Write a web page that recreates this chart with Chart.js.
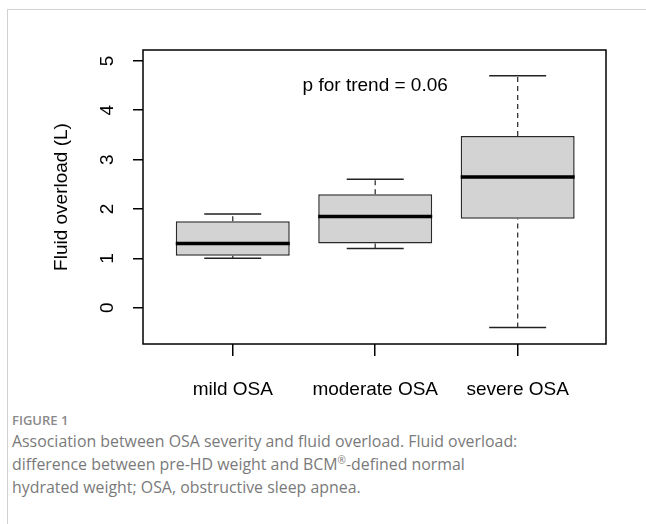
<!DOCTYPE html>
<html>
<head>
<meta charset="utf-8">
<script src="https://cdn.jsdelivr.net/npm/chart.js@4.4.1/dist/chart.umd.min.js"></script>
<style>
  html, body { margin: 0; padding: 0; background: #fff; }
  body { width: 646px; height: 524px; position: relative; overflow: hidden; }
  .frame { position: absolute; left: 7px; top: 9px; right: 0; bottom: 0;
           border-left: 1px solid #d2d2d2; border-top: 1px solid #d2d2d2; }
  #wrap { position: absolute; left: 0; top: 0; width: 646px; height: 410px; }
  .caption { position: absolute; left: 12px; top: 410px; width: 630px;
             font-family: "Open Sans", sans-serif; color: #7a7a7a; }
  .caption .label { font-size: 13px; font-weight: 600; color: #8a8a8a; line-height: 20px; }
  .caption p { margin: 0; font-size: 15.9px; line-height: 23px; white-space: nowrap; }
  .caption sup { font-size: 10px; line-height: 0; }
</style>
</head>
<body>
<div class="frame"></div>
<div id="wrap"><canvas id="chart"></canvas></div>
<div class="caption">
  <div class="label">FIGURE 1</div>
  <p>Association between OSA severity and fluid overload. Fluid overload:<br>difference between pre-HD weight and BCM<sup>®</sup>-defined normal<br>hydrated weight; OSA, obstructive sleep apnea.</p>
</div>
<script>
// values
const categories = ["mild OSA", "moderate OSA", "severe OSA"];
const whiskerLow = [1.0, 1.2, -0.4];
const q1 = [1.05, 1.3, 1.8];
const median = [1.3, 1.85, 2.65];
const q3 = [1.75, 2.3, 3.48];
const whiskerHigh = [1.9, 2.6, 4.7];
const yTicks = [0, 1, 2, 3, 4, 5];
const trendNote = "p for trend = 0.06";
const trendAt = [2, 4.5];

const FONT = '"Liberation Sans", Arial, sans-serif';
const boxHalf = 0.4;
const capHalf = 0.2;

// segments split by null points so one line dataset holds several strokes
const medianPts = [];
const whiskerPts = [];
const capPts = [];
categories.forEach((c, i) => {
  const x = i + 1;
  medianPts.push({ x: x - boxHalf, y: median[i] }, { x: x + boxHalf, y: median[i] }, { x: x + 0.5, y: null });
  whiskerPts.push({ x, y: q3[i] }, { x, y: whiskerHigh[i] }, { x: x + 0.01, y: null },
                  { x, y: whiskerLow[i] }, { x, y: q1[i] }, { x: x + 0.02, y: null });
  capPts.push({ x: x - capHalf, y: whiskerHigh[i] }, { x: x + capHalf, y: whiskerHigh[i] }, { x: x + 0.3, y: null },
              { x: x - capHalf, y: whiskerLow[i] }, { x: x + capHalf, y: whiskerLow[i] }, { x: x + 0.35, y: null });
});

const overlay = {
  id: "overlay",
  afterDraw(chart) {
    const { ctx, chartArea, scales: { x, y } } = chart;
    ctx.save();
    ctx.strokeStyle = "#000";
    ctx.lineWidth = 1.5;
    ctx.strokeRect(chartArea.left, chartArea.top, chartArea.width, chartArea.height);
    ctx.fillStyle = "#000";
    ctx.font = "19px " + FONT;
    ctx.textAlign = "center";
    ctx.textBaseline = "middle";
    yTicks.forEach(v => {
      ctx.save();
      ctx.translate(chartArea.left - 35, y.getPixelForValue(v));
      ctx.rotate(-Math.PI / 2);
      ctx.fillText(String(v), 0, 0);
      ctx.restore();
    });
    ctx.fillText(trendNote, x.getPixelForValue(trendAt[0]), y.getPixelForValue(trendAt[1]));
    ctx.restore();
  }
};

new Chart(document.getElementById("chart"), {
  type: "bar",
  data: {
    datasets: [
      {
        type: "bar",
        data: categories.map((c, i) => ({ x: i + 1, y: [q1[i], q3[i]] })),
        backgroundColor: "#d3d3d3",
        borderColor: "#2a2a2a",
        borderWidth: 1.5,
        borderSkipped: false,
        categoryPercentage: 1,
        barPercentage: 0.8,
        order: 2
      },
      {
        type: "line",
        data: medianPts,
        borderColor: "#000",
        borderWidth: 3.5,
        pointRadius: 0,
        spanGaps: false,
        order: 0
      },
      {
        type: "line",
        data: whiskerPts,
        borderColor: "#333",
        borderWidth: 1.3,
        borderDash: [5, 4],
        pointRadius: 0,
        spanGaps: false,
        order: 3
      },
      {
        type: "line",
        data: capPts,
        borderColor: "#222",
        borderWidth: 1.5,
        pointRadius: 0,
        spanGaps: false,
        order: 3
      }
    ]
  },
  options: {
    responsive: true,
    maintainAspectRatio: false,
    animation: false,
    events: [],
    layout: { padding: { left: 0, top: 50, right: 40, bottom: 0 } },
    plugins: { legend: { display: false }, tooltip: { enabled: false } },
    scales: {
      x: {
        type: "linear",
        offset: false,
        min: 0.37,
        max: 3.62,
        afterBuildTicks: s => { s.ticks = categories.map((c, i) => ({ value: i + 1 })); },
        afterFit: s => { s.height = 66; },
        ticks: {
          callback: (v, i) => categories[i],
          font: { size: 19, family: FONT },
          color: "#000",
          padding: 22,
          autoSkip: false,
          maxRotation: 0
        },
        grid: { offset: false, drawOnChartArea: false, tickLength: 12, color: "#000", lineWidth: 1.5 },
        border: { display: false }
      },
      y: {
        min: -0.735,
        max: 5.22,
        afterBuildTicks: s => { s.ticks = yTicks.map(v => ({ value: v })); },
        afterFit: s => { s.width = 143; },
        ticks: { display: false },
        grid: { drawOnChartArea: false, tickLength: 10, color: "#000", lineWidth: 1.5 },
        border: { display: false },
        title: {
          display: true,
          text: "Fluid overload (L)",
          font: { size: 19, family: FONT },
          color: "#000",
          padding: { top: 50, bottom: 0 }
        }
      }
    }
  },
  plugins: [overlay]
});
</script>
</body>
</html>
